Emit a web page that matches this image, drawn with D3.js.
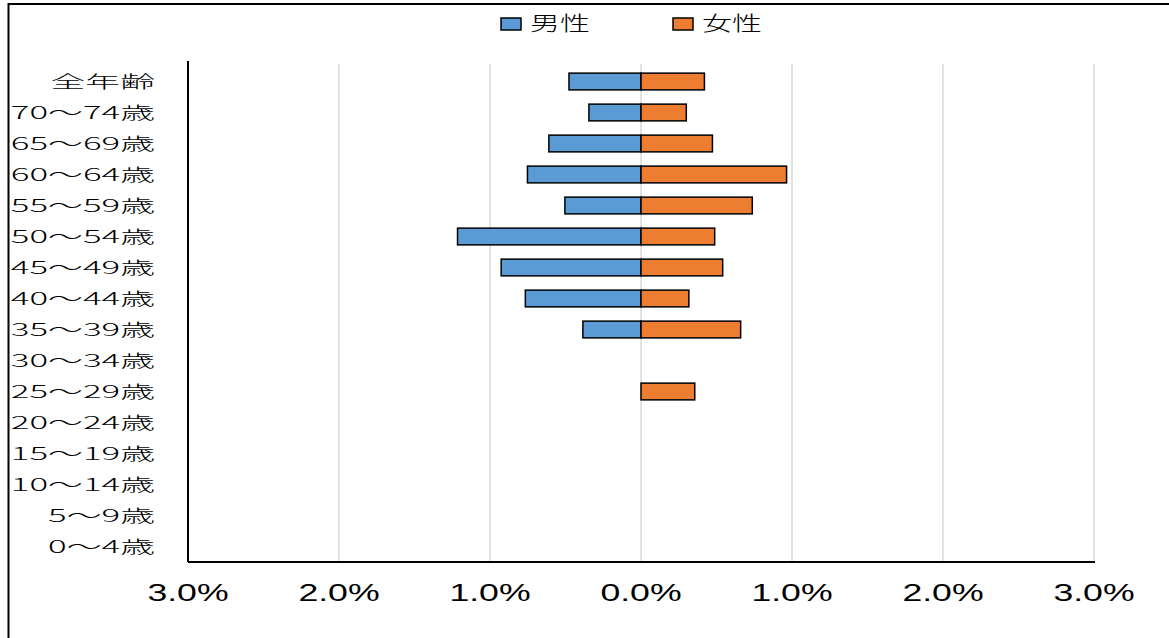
<!DOCTYPE html>
<html>
<head>
<meta charset="utf-8">
<script src="https://cdn.jsdelivr.net/npm/d3@7"></script>
<style>
	body { margin: 0; background: #fff; }
	text { font-family: "DejaVu Sans", "Noto Sans CJK JP", sans-serif; fill: #000; }
</style>
</head>
<body>
<div id="container"></div>
<script>
// 1. Data (percent of age group)
const ageGroups = ["全年齢", "70～74歳", "65～69歳", "60～64歳", "55～59歳", "50～54歳", "45～49歳", "40～44歳", "35～39歳", "30～34歳", "25～29歳", "20～24歳", "15～19歳", "10～14歳", "5～9歳", "0～4歳"]
const maleValues = [0.477, 0.345, 0.61, 0.752, 0.504, 1.215, 0.926, 0.766, 0.385, 0, 0, 0, 0, 0, 0, 0]
const femaleValues = [0.42, 0.30, 0.473, 0.964, 0.737, 0.488, 0.541, 0.317, 0.66, 0, 0.356, 0, 0, 0, 0, 0]
const seriesNames = ["男性", "女性"]
const xTicks = [-3, -2, -1, 0, 1, 2, 3]

// 2. Dimensions
const width = 1169
const height = 638
const margin = { top: 66, right: 75, bottom: 76, left: 188 }
const colors = ["#5b9bd5", "#ed7d31"]

// 3. Canvas
const svg = d3.select("#container")
	.append("svg")
	.attr("width", width)
	.attr("height", height)

// outer chart frame
svg.append("rect")
	.attr("x", 8.5)
	.attr("y", 4)
	.attr("width", width + 20)
	.attr("height", height + 20)
	.attr("fill", "none")
	.attr("stroke", "#000")
	.attr("stroke-width", 2)

// 4. Scales
const x = d3.scaleLinear()
	.domain([-3, 3])
	.range([margin.left, width - margin.right])

const y = d3.scaleBand()
	.domain(ageGroups)
	.range([margin.top, height - margin.bottom])
	.paddingInner(0.46)
	.paddingOuter(0.23)

// gridlines
svg.append("g")
	.selectAll("line")
	.data(xTicks)
	.join("line")
	.attr("x1", d => x(d))
	.attr("x2", d => x(d))
	.attr("y1", margin.top - 2)
	.attr("y2", height - margin.bottom)
	.attr("stroke", "#d9d9d9")
	.attr("stroke-width", 1.5)

// 5. Bars
const rows = ageGroups.map((g, i) => ({ g, male: maleValues[i], female: femaleValues[i] }))
const bars = svg.append("g")

bars.selectAll(".male")
	.data(rows.filter(d => d.male > 0))
	.join("rect")
	.attr("class", "male")
	.attr("x", d => x(-d.male))
	.attr("width", d => x(0) - x(-d.male))
	.attr("y", d => y(d.g))
	.attr("height", y.bandwidth())
	.attr("fill", colors[0])
	.attr("stroke", "#000")
	.attr("stroke-width", 1.5)

bars.selectAll(".female")
	.data(rows.filter(d => d.female > 0))
	.join("rect")
	.attr("class", "female")
	.attr("x", x(0))
	.attr("width", d => x(d.female) - x(0))
	.attr("y", d => y(d.g))
	.attr("height", y.bandwidth())
	.attr("fill", colors[1])
	.attr("stroke", "#000")
	.attr("stroke-width", 1.5)

// 6. Axes
svg.append("line")
	.attr("x1", margin.left)
	.attr("x2", margin.left)
	.attr("y1", margin.top - 5)
	.attr("y2", height - margin.bottom)
	.attr("stroke", "#000")
	.attr("stroke-width", 2)

svg.append("line")
	.attr("x1", margin.left)
	.attr("x2", width - margin.right + 1)
	.attr("y1", height - margin.bottom)
	.attr("y2", height - margin.bottom)
	.attr("stroke", "#000")
	.attr("stroke-width", 2)

// x tick labels (stretched horizontally as in the original)
svg.append("g")
	.selectAll("text")
	.data(xTicks)
	.join("text")
	.attr("transform", d => `translate(${x(d)}, ${height - margin.bottom + 39}) scale(1.55, 1)`)
	.attr("text-anchor", "middle")
	.style("font-size", "23px")
	.style("font-family", "'Liberation Sans', sans-serif")
	.text(d => Math.abs(d).toFixed(1) + "%")

// y labels
const labelStretch = 2.05
svg.append("g")
	.selectAll("text")
	.data(ageGroups)
	.join("text")
	.attr("transform", d => `translate(155, ${y(d) + y.bandwidth() / 2}) scale(${labelStretch}, 1)`)
	.attr("dy", "0.36em")
	.attr("text-anchor", "end")
	.style("font-size", "17px")
	.style("font-family", "'Noto Sans CJK JP', sans-serif")
	.style("font-weight", 300)
	.text(d => d)

// legend
const legend = svg.append("g")
	.selectAll("g")
	.data(seriesNames)
	.join("g")
	.attr("transform", (d, i) => `translate(${501 + i * 172}, 18)`)

legend.append("rect")
	.attr("width", 20)
	.attr("height", 12)
	.attr("fill", (d, i) => colors[i])
	.attr("stroke", "#000")
	.attr("stroke-width", 1.5)

legend.append("text")
	.attr("transform", "translate(29, 6) scale(1.5, 1)")
	.attr("dy", "0.36em")
	.style("font-size", "20px")
	.style("font-family", "'Noto Sans CJK JP', sans-serif")
	.style("font-weight", 300)
	.text(d => d)
</script>
</body>
</html>
